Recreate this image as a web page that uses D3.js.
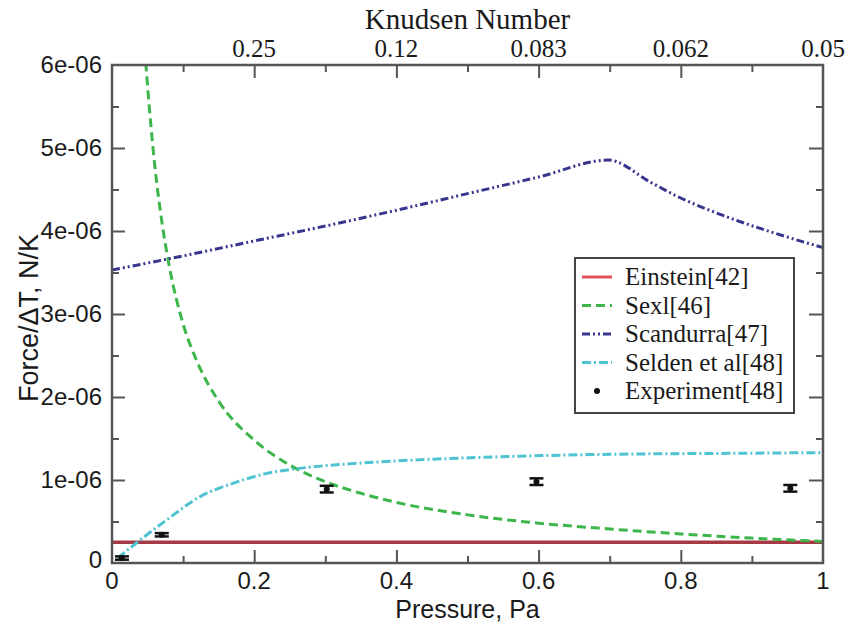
<!DOCTYPE html>
<html>
<head>
<meta charset="utf-8">
<script src="https://cdn.jsdelivr.net/npm/d3@7"></script>
<style>
  body { margin: 0; background: #fff; }
  svg { display: block; }
  .tick-label { font-family: "Liberation Sans", Arial, sans-serif; font-size: 24px; fill: #1a1a1a; }
  .top-label { font-family: "Liberation Serif", "Times New Roman", serif; font-size: 25px; fill: #1a1a1a; }
  .legend-text { font-family: "Liberation Serif", "Times New Roman", serif; font-size: 25px; fill: #1a1a1a; }
</style>
</head>
<body>
<svg id="chart" width="846" height="622"></svg>
<script>
// axis ticks and labels
var pressureTicks = [0, 0.2, 0.4, 0.6, 0.8, 1]
var pressureLabels = ["0", "0.2", "0.4", "0.6", "0.8", "1"]
var pressureMinor = [0.1, 0.3, 0.5, 0.7, 0.9]
var forceTicks = [0, 1e-6, 2e-6, 3e-6, 4e-6, 5e-6, 6e-6]
var forceLabels = ["0", "1e-06", "2e-06", "3e-06", "4e-06", "5e-06", "6e-06"]
var forceMinor = [0.5e-6, 1.5e-6, 2.5e-6, 3.5e-6, 4.5e-6, 5.5e-6]
var knudsenTicks = [0.2, 0.4, 0.6, 0.8, 1]
var knudsenLabels = ["0.25", "0.12", "0.083", "0.062", "0.05"]

// series, [pressure Pa, force/dT N/K]
var einstein = [[0, 2.5e-7], [1, 2.5e-7]]
var sexl = [[0.046, 6.2e-6], [0.05, 5.75e-6], [0.06, 4.8e-6], [0.07, 4.12e-6], [0.08, 3.6e-6],
  [0.1, 2.88e-6], [0.12, 2.42e-6], [0.15, 1.95e-6], [0.2, 1.48e-6], [0.25, 1.18e-6],
  [0.3, 0.98e-6], [0.35, 0.84e-6], [0.4, 0.73e-6], [0.5, 0.58e-6], [0.6, 0.48e-6],
  [0.7, 0.41e-6], [0.8, 0.35e-6], [0.9, 0.3e-6], [1, 0.26e-6]]
var scandurra = [[0, 3.53e-6], [0.1, 3.7e-6], [0.2, 3.88e-6], [0.3, 4.06e-6], [0.4, 4.25e-6],
  [0.5, 4.45e-6], [0.6, 4.65e-6], [0.698, 4.855e-6], [0.757, 4.59e-6], [0.792, 4.43e-6],
  [0.865, 4.17e-6], [0.93, 3.98e-6], [1, 3.8e-6]]
var selden = [[0.008, 0.06e-6], [0.04, 0.28e-6], [0.077, 0.52e-6], [0.124, 0.8e-6], [0.17, 0.96e-6],
  [0.218, 1.08e-6], [0.264, 1.14e-6], [0.36, 1.21e-6], [0.45, 1.25e-6], [0.546, 1.28e-6],
  [0.7, 1.31e-6], [0.85, 1.32e-6], [1, 1.33e-6]]
// experiment: pressure, value, error
var experiment = [[0.014, 0.06e-6, 0.02e-6], [0.07, 0.34e-6, 0.02e-6], [0.302, 0.89e-6, 0.04e-6],
  [0.597, 0.98e-6, 0.04e-6], [0.954, 0.9e-6, 0.04e-6]]

var legendNames = ["Einstein[42]", "Sexl[46]", "Scandurra[47]", "Selden et al[48]", "Experiment[48]"]

var margin = { top: 65, right: 23, bottom: 59, left: 112 }
var svg = d3.select("#chart"),
  width = +svg.attr("width") - margin.left - margin.right,
  height = +svg.attr("height") - margin.top - margin.bottom

var x = d3.scaleLinear().domain([0, 1]).range([margin.left, margin.left + width])
var y = d3.scaleLinear().domain([0, 6e-6]).range([margin.top + height, margin.top])

svg.append("clipPath").attr("id", "plotclip")
  .append("rect")
  .attr("x", x(0)).attr("y", y(6e-6))
  .attr("width", width).attr("height", height)

var axisColor = "#555"

// axes, ticks drawn inward, no labels (labels added below)
function tickAxis(axis, size) {
  return function (g) {
    g.call(axis.tickSize(size).tickFormat(""))
    g.select(".domain").remove()
    g.selectAll("line").attr("stroke", axisColor).attr("stroke-width", 2)
  }
}

svg.append("g").attr("transform", "translate(0," + y(0) + ")")
  .call(tickAxis(d3.axisTop(x).tickValues(pressureTicks.slice(1, -1)), 13))
svg.append("g").attr("transform", "translate(0," + y(0) + ")")
  .call(tickAxis(d3.axisTop(x).tickValues(pressureMinor), 7))
svg.append("g").attr("transform", "translate(0," + y(6e-6) + ")")
  .call(tickAxis(d3.axisBottom(x).tickValues(knudsenTicks.slice(0, -1)), 13))
svg.append("g").attr("transform", "translate(0," + y(6e-6) + ")")
  .call(tickAxis(d3.axisBottom(x).tickValues(pressureMinor), 7))
svg.append("g").attr("transform", "translate(" + x(0) + ",0)")
  .call(tickAxis(d3.axisRight(y).tickValues(forceTicks.slice(1, -1)), 13))
svg.append("g").attr("transform", "translate(" + x(0) + ",0)")
  .call(tickAxis(d3.axisRight(y).tickValues(forceMinor), 7))
svg.append("g").attr("transform", "translate(" + x(1) + ",0)")
  .call(tickAxis(d3.axisLeft(y).tickValues(forceTicks.slice(1, -1)), 14))
svg.append("g").attr("transform", "translate(" + x(1) + ",0)")
  .call(tickAxis(d3.axisLeft(y).tickValues(forceMinor), 7))

// tick labels
svg.append("g").selectAll("text")
  .data(pressureTicks)
  .enter().append("text")
  .attr("class", "tick-label")
  .attr("x", function (d) { return x(d) })
  .attr("y", y(0) + 26)
  .attr("text-anchor", "middle")
  .text(function (d, i) { return pressureLabels[i] })

svg.append("g").selectAll("text")
  .data(forceTicks)
  .enter().append("text")
  .attr("class", "tick-label")
  .attr("x", x(0) - 10)
  .attr("y", function (d, i) { return y(d) + (i == 0 ? 5 : 8) })
  .attr("text-anchor", "end")
  .text(function (d, i) { return forceLabels[i] })

svg.append("g").selectAll("text")
  .data(knudsenTicks)
  .enter().append("text")
  .attr("class", "top-label")
  .attr("x", function (d) { return x(d) })
  .attr("y", y(6e-6) - 8)
  .attr("text-anchor", "middle")
  .text(function (d, i) { return knudsenLabels[i] })

// axis titles
svg.append("text")
  .attr("x", x(0.5)).attr("y", 618)
  .attr("text-anchor", "middle")
  .style("font-family", "Liberation Sans, Arial, sans-serif")
  .style("font-size", "25px").style("fill", "#1a1a1a")
  .text("Pressure, Pa")

svg.append("text")
  .attr("transform", "translate(38,318) rotate(-90)")
  .attr("text-anchor", "middle")
  .style("font-family", "Liberation Sans, Arial, sans-serif")
  .style("font-size", "27px").style("fill", "#1a1a1a")
  .text("Force/\u0394T, N/K")

svg.append("text")
  .attr("x", x(0.5)).attr("y", 29)
  .attr("text-anchor", "middle")
  .style("font-family", "Liberation Serif, Times New Roman, serif")
  .style("font-size", "29px").style("fill", "#1a1a1a")
  .text("Knudsen Number")

// curves
var line = d3.line()
  .x(function (d) { return x(d[0]) })
  .y(function (d) { return y(d[1]) })
  .curve(d3.curveMonotoneX)

var styles = [
  { data: einstein, color: "#a53a44", width: 3.5, dash: null },
  { data: sexl, color: "#3cb64a", width: 3, dash: "9,5" },
  { data: scandurra, color: "#38358f", width: 3, dash: "8,3,2,3,2,3" },
  { data: selden, color: "#4fc3d2", width: 3, dash: "9,3,2,3" }
]

var plot = svg.append("g").attr("clip-path", "url(#plotclip)")

plot.selectAll(".curve")
  .data(styles)
  .enter().append("path")
  .attr("class", "curve")
  .attr("d", function (d) { return line(d.data) })
  .attr("fill", "none")
  .attr("stroke", function (d) { return d.color })
  .attr("stroke-width", function (d) { return d.width })
  .attr("stroke-dasharray", function (d) { return d.dash })

// experiment with error bars
var exp = plot.selectAll(".exp")
  .data(experiment)
  .enter().append("g")
  .attr("class", "exp")

exp.append("line")
  .attr("x1", function (d) { return x(d[0]) }).attr("x2", function (d) { return x(d[0]) })
  .attr("y1", function (d) { return y(d[1] - d[2]) }).attr("y2", function (d) { return y(d[1] + d[2]) })
  .attr("stroke", "#111").attr("stroke-width", 2.5)
exp.selectAll(".cap")
  .data(function (d) { return [[d[0], d[1] - d[2]], [d[0], d[1] + d[2]]] })
  .enter().append("line")
  .attr("x1", function (d) { return x(d[0]) - 7 }).attr("x2", function (d) { return x(d[0]) + 7 })
  .attr("y1", function (d) { return y(d[1]) }).attr("y2", function (d) { return y(d[1]) })
  .attr("stroke", "#111").attr("stroke-width", 2.5)
exp.append("circle")
  .attr("cx", function (d) { return x(d[0]) })
  .attr("cy", function (d) { return y(d[1]) })
  .attr("r", 3).attr("fill", "#111")

// frame
svg.append("rect")
  .attr("x", x(0)).attr("y", y(6e-6))
  .attr("width", width).attr("height", height)
  .attr("fill", "none").attr("stroke", axisColor).attr("stroke-width", 2.5)

// legend
var legend = svg.append("g").attr("transform", "translate(575,258)")
legend.append("rect")
  .attr("width", 219).attr("height", 155)
  .attr("fill", "#fff").attr("stroke", "#444").attr("stroke-width", 2)

legendNames.forEach(function (name, i) {
  var ly = 19 + i * 28.5
  if (i < 4) {
    legend.append("line")
      .attr("x1", 7).attr("x2", 37).attr("y1", ly).attr("y2", ly)
      .attr("stroke", i == 0 ? "#e0505a" : styles[i].color)
      .attr("stroke-width", 3)
      .attr("stroke-dasharray", i == 0 ? null : styles[i].dash)
  } else {
    legend.append("circle").attr("cx", 22).attr("cy", ly).attr("r", 3).attr("fill", "#111")
  }
  legend.append("text")
    .attr("class", "legend-text")
    .attr("x", 50).attr("y", ly + 8)
    .text(name)
})
</script>
</body>
</html>
